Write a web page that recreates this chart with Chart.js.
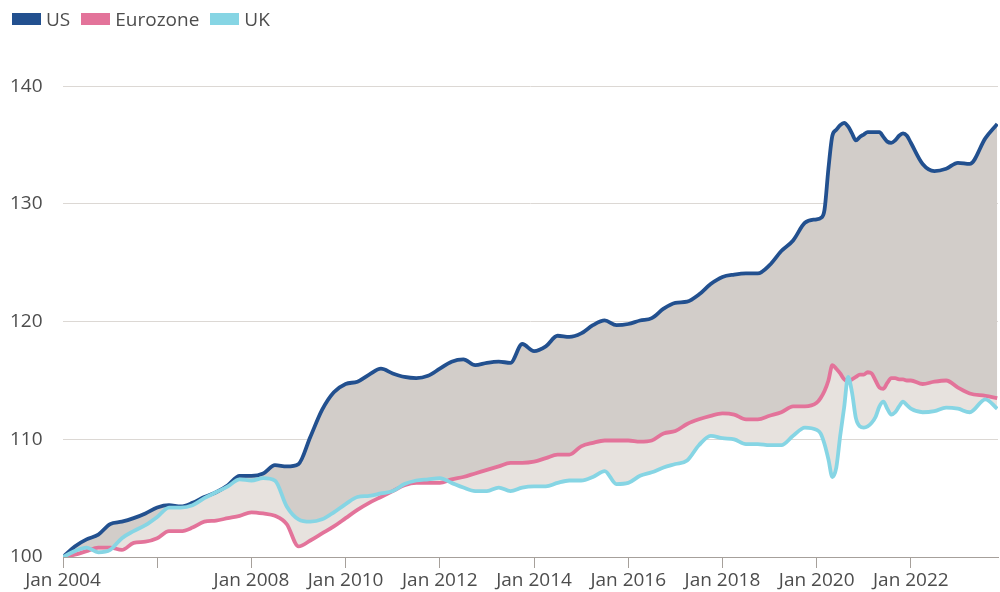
<!DOCTYPE html>
<html>
<head>
<meta charset="utf-8">
<script src="https://cdn.jsdelivr.net/npm/chart.js@4.4.1/dist/chart.umd.min.js"></script>
<style>
  html, body { margin: 0; padding: 0; background: #fff; }
  #wrap { position: relative; width: 1000px; height: 592px; }
  #legend { position: absolute; left: 12px; top: 6px; display: flex; font: 19px 'Open Sans', sans-serif; color: #4d4d4d; }
  .item { display: flex; align-items: center; margin-right: 11px; }
  .box { width: 29px; height: 12px; margin-right: 5px; }
</style>
</head>
<body>
<div id="wrap">
  <div id="legend"></div>
  <canvas id="chart" width="1000" height="592"></canvas>
</div>
<script>
// months: quarterly, monthly through 2020-21
const dates = [
  '2004-01','2004-04','2004-07','2004-10',
  '2005-01','2005-04','2005-07','2005-10',
  '2006-01','2006-04','2006-07','2006-10',
  '2007-01','2007-04','2007-07','2007-10',
  '2008-01','2008-04','2008-07','2008-10',
  '2009-01','2009-04','2009-07','2009-10',
  '2010-01','2010-04','2010-07','2010-10',
  '2011-01','2011-04','2011-07','2011-10',
  '2012-01','2012-04','2012-07','2012-10',
  '2013-01','2013-04','2013-07','2013-10',
  '2014-01','2014-04','2014-07','2014-10',
  '2015-01','2015-04','2015-07','2015-10',
  '2016-01','2016-04','2016-07','2016-10',
  '2017-01','2017-04','2017-07','2017-10',
  '2018-01','2018-04','2018-07','2018-10',
  '2019-01','2019-04','2019-07','2019-10',
  '2020-01','2020-02','2020-03','2020-04','2020-05','2020-06',
  '2020-07','2020-08','2020-09','2020-10','2020-11','2020-12',
  '2021-01','2021-02','2021-03','2021-04','2021-05','2021-06',
  '2021-07','2021-08','2021-09','2021-10','2021-11','2021-12',
  '2022-01','2022-04','2022-07','2022-10',
  '2023-01','2023-04','2023-08','2023-11'
];

const us = [
  100.0, 100.9, 101.5, 101.9,
  102.8, 103.0, 103.3, 103.7,
  104.2, 104.4, 104.3, 104.6,
  105.1, 105.5, 106.1, 106.9,
  106.9, 107.1, 107.8, 107.7,
  107.9, 110.2, 112.5, 114.0,
  114.7, 114.9, 115.5, 116.0,
  115.6, 115.3, 115.2, 115.4,
  116.0, 116.6, 116.8, 116.3,
  116.5, 116.6, 116.5, 118.1,
  117.5, 117.9, 118.8, 118.7,
  119.0, 119.7, 120.1, 119.7,
  119.8, 120.1, 120.3, 121.1,
  121.6, 121.7, 122.3, 123.2,
  123.8, 124.0, 124.1, 124.1,
  124.8, 126.0, 126.9, 128.4,
  128.7, 128.8, 129.5, 133.0, 135.8, 136.3,
  136.7, 136.9, 136.6, 136.0, 135.4, 135.7,
  135.9, 136.1, 136.1, 136.1, 136.1, 135.7,
  135.3, 135.2, 135.4, 135.8, 136.0, 135.8,
  135.2, 133.4, 132.8, 133.0,
  133.5, 133.4, 135.6, 136.8
];

const eurozone = [
  100.0, 100.2, 100.5, 100.8,
  100.8, 100.6, 101.2, 101.3,
  101.6, 102.2, 102.2, 102.5,
  103.0, 103.1, 103.3, 103.5,
  103.8, 103.7, 103.5, 102.8,
  100.9, 101.4, 102.0, 102.6,
  103.3, 104.0, 104.6, 105.1,
  105.6, 106.1, 106.3, 106.3,
  106.3, 106.6, 106.8, 107.1,
  107.4, 107.7, 108.0, 108.0,
  108.1, 108.4, 108.7, 108.7,
  109.4, 109.7, 109.9, 109.9,
  109.9, 109.8, 109.9, 110.5,
  110.7, 111.3, 111.7, 112.0,
  112.2, 112.1, 111.7, 111.7,
  112.0, 112.3, 112.8, 112.8,
  113.1, 113.5, 114.1, 115.0, 116.3, 116.0,
  115.6, 115.1, 114.9, 115.1, 115.3, 115.5,
  115.5, 115.7, 115.6, 115.0, 114.4, 114.3,
  114.8, 115.2, 115.2, 115.1, 115.1, 115.0,
  115.0, 114.7, 114.9, 115.0,
  114.4, 113.9, 113.7, 113.5
];

const uk = [
  100.0, 100.5, 100.8, 100.4,
  100.6, 101.6, 102.2, 102.7,
  103.4, 104.2, 104.2, 104.4,
  105.0, 105.5, 106.0, 106.6,
  106.5, 106.7, 106.5, 104.3,
  103.2, 103.0, 103.2, 103.8,
  104.5, 105.1, 105.2, 105.4,
  105.6, 106.2, 106.5, 106.6,
  106.7, 106.3, 105.9, 105.6,
  105.6, 105.9, 105.6, 105.9,
  106.0, 106.0, 106.3, 106.5,
  106.5, 106.8, 107.3, 106.2,
  106.3, 106.9, 107.2, 107.6,
  107.9, 108.2, 109.5, 110.3,
  110.1, 110.0, 109.6, 109.6,
  109.5, 109.5, 110.3, 111.0,
  110.8, 110.5, 109.6, 108.3, 106.8, 107.6,
  110.3, 112.7, 115.3, 114.0, 111.8, 111.1,
  111.0, 111.1, 111.4, 111.9, 112.8, 113.2,
  112.6, 112.1, 112.3, 112.8, 113.2, 112.9,
  112.6, 112.3, 112.4, 112.7,
  112.6, 112.3, 113.4, 112.6
];

const seriesNames = ['US', 'Eurozone', 'UK'];
const seriesColors = ['#22508f', '#e3739a', '#86d5e4'];
const xTickYears = [2004, 2006, 2008, 2010, 2012, 2014, 2016, 2018, 2020, 2022];
const xTickLabels = ['Jan 2004', '', 'Jan 2008', 'Jan 2010', 'Jan 2012', 'Jan 2014', 'Jan 2016', 'Jan 2018', 'Jan 2020', 'Jan 2022'];
const yTicks = [100, 110, 120, 130, 140];

const toYear = d => +d.slice(0, 4) + (+d.slice(5, 7) - 1) / 12;
const pts = vals => vals.map((v, i) => ({ x: toYear(dates[i]), y: v }));

// legend
const legend = document.getElementById('legend');
seriesNames.forEach((name, i) => {
  const item = document.createElement('div');
  item.className = 'item';
  item.innerHTML = `<span class="box" style="background:${seriesColors[i]}"></span>${name}`;
  legend.appendChild(item);
});

const FONT = { family: "'Open Sans', sans-serif", size: 19 };
const TEXT = '#4d4d4d';
const AXIS = '#a6a09b';

const lineStyle = { borderWidth: 3.8, pointRadius: 0, cubicInterpolationMode: 'monotone', borderJoinStyle: 'round' };

// UK first so its light fill is painted over the dark one
new Chart(document.getElementById('chart').getContext('2d'), {
  type: 'line',
  data: {
    datasets: [
      { label: 'UK', data: pts(uk), borderColor: seriesColors[2], backgroundColor: '#e7e2de', fill: 2, ...lineStyle },
      { label: 'US', data: pts(us), borderColor: seriesColors[0], backgroundColor: '#d2cdc9', fill: 2, ...lineStyle },
      { label: 'Eurozone', data: pts(eurozone), borderColor: seriesColors[1], fill: false, ...lineStyle }
    ]
  },
  options: {
    responsive: false,
    animation: false,
    devicePixelRatio: 1,
    layout: { padding: { top: 51, right: 2, left: 10, bottom: 0 } },
    plugins: {
      legend: { display: false },
      tooltip: { enabled: false },
      filler: { drawTime: 'beforeDatasetsDraw' }
    },
    scales: {
      x: {
        type: 'linear',
        min: 2004,
        max: 2023.85,
        afterBuildTicks: s => { s.ticks = xTickYears.map(v => ({ value: v })); },
        afterFit: s => { s.height = 35; },
        ticks: {
          autoSkip: false, maxRotation: 0, padding: 1, color: TEXT, font: FONT,
          callback: v => xTickLabels[xTickYears.indexOf(v)]
        },
        grid: { drawOnChartArea: false, drawTicks: true, tickLength: 11, color: AXIS },
        border: { color: AXIS, width: 1 }
      },
      y: {
        min: 100,
        max: 143,
        afterBuildTicks: s => { s.ticks = yTicks.map(v => ({ value: v })); },
        afterFit: s => { s.width = 53; },
        ticks: { crossAlign: 'far', padding: 0, color: TEXT, font: FONT },
        grid: { drawTicks: false, color: c => c.tick && c.tick.value === 100 ? 'rgba(0,0,0,0)' : '#dcd8d4' },
        border: { display: false }
      }
    }
  }
});
</script>
</body>
</html>
